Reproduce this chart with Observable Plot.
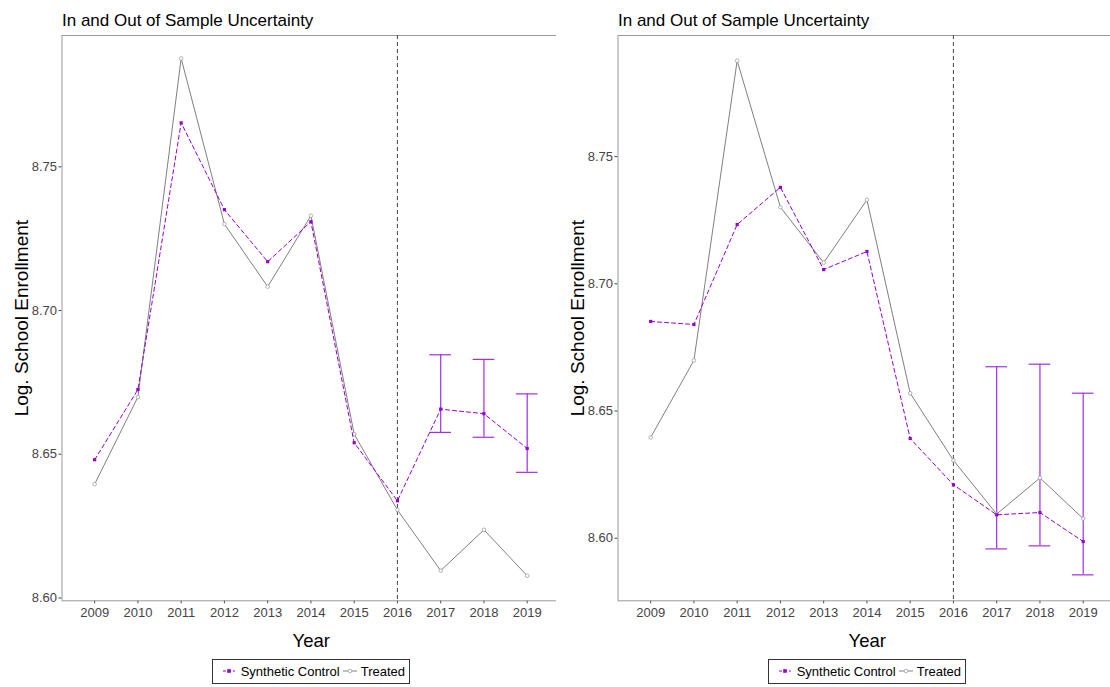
<!DOCTYPE html>
<html>
<head>
<meta charset="utf-8">
<script src="https://cdn.jsdelivr.net/npm/d3@7"></script>
<script src="https://cdn.jsdelivr.net/npm/@observablehq/plot@0.6"></script>
<style>
  html, body { margin: 0; padding: 0; background: #fff; }
  #wrap { position: relative; width: 1110px; height: 687px; overflow: hidden; font-family: "Liberation Sans", Arial, sans-serif; }
  .panel { position: absolute; top: 0; }
  .legend { position: absolute; top: 659px; width: 196px; height: 23px; border: 1px solid #333; box-sizing: content-box; }
  .legend .lab { position: absolute; top: 4px; font-size: 13px; color: #000; line-height: 15px; white-space: nowrap; }
  .legend svg { position: absolute; top: 6px; }
</style>
</head>
<body>
<div id="wrap"></div>
<script>
// ---- data ----
const years = [2009, 2010, 2011, 2012, 2013, 2014, 2015, 2016, 2017, 2018, 2019];
const treated = [8.6396, 8.6699, 8.7877, 8.7301, 8.7083, 8.7330, 8.6570, 8.6306, 8.6095, 8.6237, 8.6077];

// left panel (in-sample)
const synthLeft = [8.6481, 8.6725, 8.7653, 8.7351, 8.7170, 8.7309, 8.6540, 8.6338, 8.6657, 8.6641, 8.6520];
const errYearsLeft = [2017, 2018, 2019];
const errLowLeft = [8.6576, 8.6559, 8.6437];
const errHighLeft = [8.6846, 8.6830, 8.6710];

// right panel (out-of-sample)
const synthRight = [8.6852, 8.6840, 8.7233, 8.7379, 8.7056, 8.7127, 8.6392, 8.6210, 8.6092, 8.6101, 8.5987];
const errYearsRight = [2017, 2018, 2019];
const errLowRight = [8.5958, 8.5970, 8.5856];
const errHighRight = [8.6674, 8.6684, 8.6570];

const yTicksLeft = [8.60, 8.65, 8.70, 8.75];
const yTicksRight = [8.60, 8.65, 8.70, 8.75];
const titleText = "In and Out of Sample Uncertainty";
const xLabel = "Year";
const yLabel = "Log. School Enrollment";
const legendLabels = ["Synthetic Control", "Treated"];
const treatLine = 2016;

const PURPLE = "#9400d3";
const ERR = "#a32ee6";
const GRAY = "#808080";

function panel(synth, eYears, eLo, eHi, yDomain, yTicks) {
  const tr = years.map((y, i) => ({year: y, value: treated[i]}));
  const sc = years.map((y, i) => ({year: y, value: synth[i]}));
  const err = eYears.map((y, i) => ({year: y, lo: eLo[i], hi: eHi[i]}));
  return Plot.plot({
    width: 562, height: 660,
    marginLeft: 61.5, marginRight: 2, marginTop: 35, marginBottom: 59.7,
    style: {fontFamily: "'Liberation Sans', Arial, sans-serif", fontSize: "13px", color: "#444", background: "white"},
    x: {domain: [2008.245, 2019.77], ticks: years, tickFormat: d => String(d), tickSize: 3, tickPadding: 4, label: null},
    y: {domain: yDomain, ticks: yTicks, tickFormat: d3.format(".2f"), tickSize: 3, tickPadding: 2, label: null},
    marks: [
      Plot.frame({stroke: "#9a9a9a", strokeWidth: 1}),
      Plot.ruleX([treatLine], {stroke: "#555", strokeWidth: 1.1, strokeDasharray: "4,3"}),
      Plot.ruleX(err, {x: "year", y1: "lo", y2: "hi", stroke: ERR, strokeWidth: 1.2}),
      Plot.ruleY(err, {y: "hi", x1: d => d.year - 0.25, x2: d => d.year + 0.25, stroke: ERR, strokeWidth: 1.2}),
      Plot.ruleY(err, {y: "lo", x1: d => d.year - 0.25, x2: d => d.year + 0.25, stroke: ERR, strokeWidth: 1.2}),
      Plot.line(tr, {x: "year", y: "value", stroke: GRAY, strokeWidth: 1}),
      Plot.dot(tr, {x: "year", y: "value", r: 1.8, stroke: "#a0a0a0", fill: "white", strokeWidth: 0.8}),
      Plot.line(sc, {x: "year", y: "value", stroke: PURPLE, strokeWidth: 1, strokeDasharray: "4,3"}),
      Plot.dot(sc, {x: "year", y: "value", r: 1.8, symbol: "square", fill: PURPLE, stroke: "none"}),
      Plot.text([titleText], {frameAnchor: "top-left", textAnchor: "start", lineAnchor: "middle", dy: -15, fontSize: 17, fill: "black"}),
      Plot.text([xLabel], {frameAnchor: "bottom", textAnchor: "middle", lineAnchor: "middle", dy: 40, fontSize: 18.5, fill: "black"}),
      Plot.text([yLabel], {frameAnchor: "left", textAnchor: "middle", rotate: -90, lineAnchor: "middle", dx: -40, fontSize: 19, fill: "black"})
    ]
  });
}

function legend(left) {
  const div = document.createElement("div");
  div.className = "legend";
  div.style.left = left + "px";
  div.innerHTML = `
    <svg width="14" height="10" style="left:9px"><line x1="1" y1="5" x2="13" y2="5" stroke="${PURPLE}" stroke-dasharray="3,2"/><rect x="5.2" y="3.2" width="3.6" height="3.6" fill="${PURPLE}"/></svg>
    <span class="lab" style="left:28px">${legendLabels[0]}</span>
    <svg width="14" height="10" style="left:130px"><line x1="0" y1="5" x2="14" y2="5" stroke="${GRAY}"/><circle cx="7" cy="5" r="1.8" fill="white" stroke="#a0a0a0" stroke-width="0.8"/></svg>
    <span class="lab" style="left:148px">${legendLabels[1]}</span>`;
  return div;
}

const wrap = document.getElementById("wrap");
const p1 = panel(synthLeft, errYearsLeft, errLowLeft, errHighLeft, [8.599, 8.7957], yTicksLeft);
p1.classList.add("panel"); p1.style.left = "0px";
const p2 = panel(synthRight, errYearsRight, errLowRight, errHighRight, [8.5754, 8.7976], yTicksRight);
p2.classList.add("panel"); p2.style.left = "556px";
wrap.appendChild(p1);
wrap.appendChild(p2);
wrap.appendChild(legend(211.7));
wrap.appendChild(legend(767.7));
</script>
</body>
</html>
